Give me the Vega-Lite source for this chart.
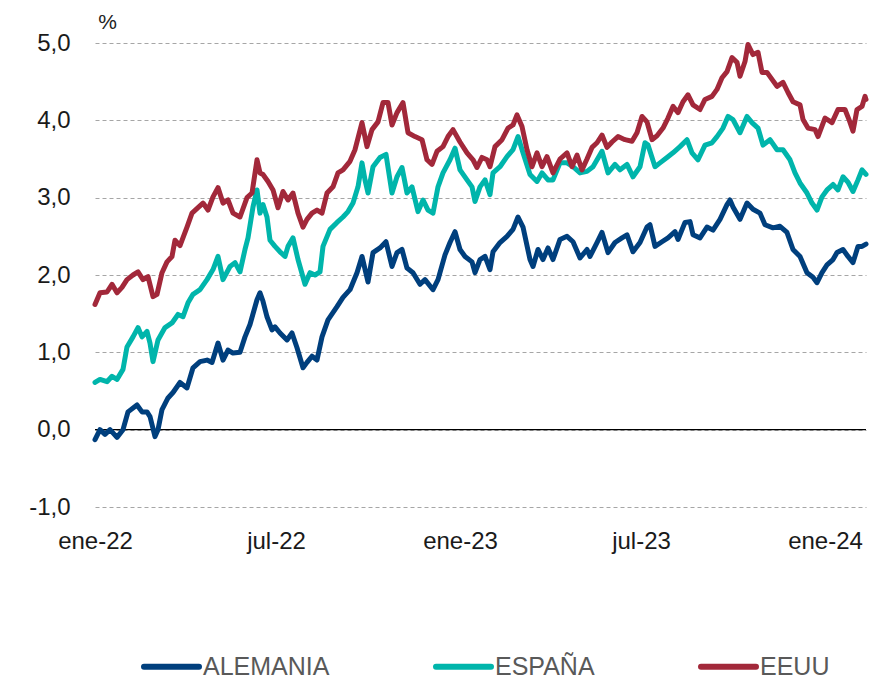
{
"$schema": "https://vega.github.io/schema/vega-lite/v6.json",
"autosize": "none",
"width": 771,
"height": 464,
"padding": {"left": 95, "top": 43, "right": 18, "bottom": 174},
"background": "white",
"datasets": {
"series": [
{"d":"2022-01-01","p":"ALEMANIA","v":-0.13},{"d":"2022-01-06","p":"ALEMANIA","v":0.0},{"d":"2022-01-11","p":"ALEMANIA","v":-0.06},{"d":"2022-01-16","p":"ALEMANIA","v":0.0},{"d":"2022-01-23","p":"ALEMANIA","v":-0.1},{"d":"2022-01-29","p":"ALEMANIA","v":0.0},{"d":"2022-02-03","p":"ALEMANIA","v":0.23},{"d":"2022-02-12","p":"ALEMANIA","v":0.32},{"d":"2022-02-17","p":"ALEMANIA","v":0.23},{"d":"2022-02-22","p":"ALEMANIA","v":0.23},{"d":"2022-02-25","p":"ALEMANIA","v":0.17},{"d":"2022-03-02","p":"ALEMANIA","v":-0.09},{"d":"2022-03-05","p":"ALEMANIA","v":0.0},{"d":"2022-03-09","p":"ALEMANIA","v":0.26},{"d":"2022-03-15","p":"ALEMANIA","v":0.41},{"d":"2022-03-20","p":"ALEMANIA","v":0.48},{"d":"2022-03-27","p":"ALEMANIA","v":0.61},{"d":"2022-04-03","p":"ALEMANIA","v":0.54},{"d":"2022-04-09","p":"ALEMANIA","v":0.8},{"d":"2022-04-16","p":"ALEMANIA","v":0.88},{"d":"2022-04-23","p":"ALEMANIA","v":0.9},{"d":"2022-04-28","p":"ALEMANIA","v":0.87},{"d":"2022-05-04","p":"ALEMANIA","v":1.12},{"d":"2022-05-09","p":"ALEMANIA","v":0.9},{"d":"2022-05-14","p":"ALEMANIA","v":1.03},{"d":"2022-05-19","p":"ALEMANIA","v":0.99},{"d":"2022-05-26","p":"ALEMANIA","v":1.0},{"d":"2022-05-31","p":"ALEMANIA","v":1.2},{"d":"2022-06-05","p":"ALEMANIA","v":1.36},{"d":"2022-06-12","p":"ALEMANIA","v":1.68},{"d":"2022-06-15","p":"ALEMANIA","v":1.77},{"d":"2022-06-18","p":"ALEMANIA","v":1.66},{"d":"2022-06-22","p":"ALEMANIA","v":1.46},{"d":"2022-06-27","p":"ALEMANIA","v":1.29},{"d":"2022-06-30","p":"ALEMANIA","v":1.33},{"d":"2022-07-05","p":"ALEMANIA","v":1.25},{"d":"2022-07-12","p":"ALEMANIA","v":1.16},{"d":"2022-07-17","p":"ALEMANIA","v":1.25},{"d":"2022-07-22","p":"ALEMANIA","v":1.06},{"d":"2022-07-28","p":"ALEMANIA","v":0.8},{"d":"2022-08-01","p":"ALEMANIA","v":0.87},{"d":"2022-08-06","p":"ALEMANIA","v":0.95},{"d":"2022-08-11","p":"ALEMANIA","v":0.9},{"d":"2022-08-16","p":"ALEMANIA","v":1.2},{"d":"2022-08-22","p":"ALEMANIA","v":1.42},{"d":"2022-08-31","p":"ALEMANIA","v":1.59},{"d":"2022-09-06","p":"ALEMANIA","v":1.71},{"d":"2022-09-13","p":"ALEMANIA","v":1.81},{"d":"2022-09-20","p":"ALEMANIA","v":2.03},{"d":"2022-09-25","p":"ALEMANIA","v":2.24},{"d":"2022-10-01","p":"ALEMANIA","v":1.91},{"d":"2022-10-06","p":"ALEMANIA","v":2.29},{"d":"2022-10-13","p":"ALEMANIA","v":2.35},{"d":"2022-10-19","p":"ALEMANIA","v":2.43},{"d":"2022-10-25","p":"ALEMANIA","v":2.11},{"d":"2022-10-30","p":"ALEMANIA","v":2.29},{"d":"2022-11-04","p":"ALEMANIA","v":2.33},{"d":"2022-11-09","p":"ALEMANIA","v":2.09},{"d":"2022-11-15","p":"ALEMANIA","v":2.03},{"d":"2022-11-22","p":"ALEMANIA","v":1.88},{"d":"2022-11-27","p":"ALEMANIA","v":1.94},{"d":"2022-12-05","p":"ALEMANIA","v":1.81},{"d":"2022-12-10","p":"ALEMANIA","v":1.94},{"d":"2022-12-17","p":"ALEMANIA","v":2.26},{"d":"2022-12-22","p":"ALEMANIA","v":2.42},{"d":"2022-12-27","p":"ALEMANIA","v":2.56},{"d":"2023-01-01","p":"ALEMANIA","v":2.33},{"d":"2023-01-06","p":"ALEMANIA","v":2.24},{"d":"2023-01-13","p":"ALEMANIA","v":2.17},{"d":"2023-01-16","p":"ALEMANIA","v":2.03},{"d":"2023-01-21","p":"ALEMANIA","v":2.2},{"d":"2023-01-26","p":"ALEMANIA","v":2.24},{"d":"2023-01-31","p":"ALEMANIA","v":2.07},{"d":"2023-02-03","p":"ALEMANIA","v":2.3},{"d":"2023-02-10","p":"ALEMANIA","v":2.42},{"d":"2023-02-17","p":"ALEMANIA","v":2.5},{"d":"2023-02-23","p":"ALEMANIA","v":2.59},{"d":"2023-02-28","p":"ALEMANIA","v":2.75},{"d":"2023-03-05","p":"ALEMANIA","v":2.62},{"d":"2023-03-12","p":"ALEMANIA","v":2.2},{"d":"2023-03-15","p":"ALEMANIA","v":2.11},{"d":"2023-03-20","p":"ALEMANIA","v":2.33},{"d":"2023-03-25","p":"ALEMANIA","v":2.2},{"d":"2023-03-30","p":"ALEMANIA","v":2.35},{"d":"2023-04-04","p":"ALEMANIA","v":2.2},{"d":"2023-04-11","p":"ALEMANIA","v":2.46},{"d":"2023-04-18","p":"ALEMANIA","v":2.5},{"d":"2023-04-24","p":"ALEMANIA","v":2.43},{"d":"2023-05-01","p":"ALEMANIA","v":2.22},{"d":"2023-05-08","p":"ALEMANIA","v":2.33},{"d":"2023-05-11","p":"ALEMANIA","v":2.24},{"d":"2023-05-18","p":"ALEMANIA","v":2.42},{"d":"2023-05-23","p":"ALEMANIA","v":2.55},{"d":"2023-05-29","p":"ALEMANIA","v":2.29},{"d":"2023-06-05","p":"ALEMANIA","v":2.42},{"d":"2023-06-12","p":"ALEMANIA","v":2.48},{"d":"2023-06-17","p":"ALEMANIA","v":2.52},{"d":"2023-06-23","p":"ALEMANIA","v":2.3},{"d":"2023-06-30","p":"ALEMANIA","v":2.42},{"d":"2023-07-07","p":"ALEMANIA","v":2.62},{"d":"2023-07-10","p":"ALEMANIA","v":2.65},{"d":"2023-07-15","p":"ALEMANIA","v":2.37},{"d":"2023-07-22","p":"ALEMANIA","v":2.43},{"d":"2023-07-28","p":"ALEMANIA","v":2.48},{"d":"2023-08-04","p":"ALEMANIA","v":2.56},{"d":"2023-08-07","p":"ALEMANIA","v":2.46},{"d":"2023-08-14","p":"ALEMANIA","v":2.68},{"d":"2023-08-19","p":"ALEMANIA","v":2.69},{"d":"2023-08-22","p":"ALEMANIA","v":2.52},{"d":"2023-08-29","p":"ALEMANIA","v":2.48},{"d":"2023-09-05","p":"ALEMANIA","v":2.62},{"d":"2023-09-11","p":"ALEMANIA","v":2.58},{"d":"2023-09-18","p":"ALEMANIA","v":2.72},{"d":"2023-09-25","p":"ALEMANIA","v":2.91},{"d":"2023-09-28","p":"ALEMANIA","v":2.97},{"d":"2023-10-01","p":"ALEMANIA","v":2.88},{"d":"2023-10-08","p":"ALEMANIA","v":2.72},{"d":"2023-10-15","p":"ALEMANIA","v":2.93},{"d":"2023-10-21","p":"ALEMANIA","v":2.85},{"d":"2023-10-28","p":"ALEMANIA","v":2.8},{"d":"2023-11-02","p":"ALEMANIA","v":2.65},{"d":"2023-11-10","p":"ALEMANIA","v":2.61},{"d":"2023-11-17","p":"ALEMANIA","v":2.63},{"d":"2023-11-24","p":"ALEMANIA","v":2.55},{"d":"2023-11-30","p":"ALEMANIA","v":2.33},{"d":"2023-12-07","p":"ALEMANIA","v":2.24},{"d":"2023-12-14","p":"ALEMANIA","v":2.03},{"d":"2023-12-20","p":"ALEMANIA","v":1.97},{"d":"2023-12-24","p":"ALEMANIA","v":1.9},{"d":"2023-12-29","p":"ALEMANIA","v":2.03},{"d":"2024-01-03","p":"ALEMANIA","v":2.13},{"d":"2024-01-09","p":"ALEMANIA","v":2.2},{"d":"2024-01-13","p":"ALEMANIA","v":2.29},{"d":"2024-01-19","p":"ALEMANIA","v":2.33},{"d":"2024-01-24","p":"ALEMANIA","v":2.24},{"d":"2024-01-29","p":"ALEMANIA","v":2.16},{"d":"2024-02-03","p":"ALEMANIA","v":2.37},{"d":"2024-02-07","p":"ALEMANIA","v":2.37},{"d":"2024-02-11","p":"ALEMANIA","v":2.4},
{"d":"2022-01-01","p":"ESPAÑA","v":0.61},{"d":"2022-01-06","p":"ESPAÑA","v":0.65},{"d":"2022-01-13","p":"ESPAÑA","v":0.62},{"d":"2022-01-18","p":"ESPAÑA","v":0.69},{"d":"2022-01-23","p":"ESPAÑA","v":0.65},{"d":"2022-01-29","p":"ESPAÑA","v":0.78},{"d":"2022-02-02","p":"ESPAÑA","v":1.07},{"d":"2022-02-08","p":"ESPAÑA","v":1.2},{"d":"2022-02-13","p":"ESPAÑA","v":1.32},{"d":"2022-02-17","p":"ESPAÑA","v":1.2},{"d":"2022-02-22","p":"ESPAÑA","v":1.27},{"d":"2022-02-25","p":"ESPAÑA","v":1.12},{"d":"2022-02-28","p":"ESPAÑA","v":0.88},{"d":"2022-03-05","p":"ESPAÑA","v":1.16},{"d":"2022-03-12","p":"ESPAÑA","v":1.32},{"d":"2022-03-19","p":"ESPAÑA","v":1.38},{"d":"2022-03-25","p":"ESPAÑA","v":1.49},{"d":"2022-03-30","p":"ESPAÑA","v":1.46},{"d":"2022-04-04","p":"ESPAÑA","v":1.64},{"d":"2022-04-09","p":"ESPAÑA","v":1.75},{"d":"2022-04-16","p":"ESPAÑA","v":1.81},{"d":"2022-04-23","p":"ESPAÑA","v":1.94},{"d":"2022-04-29","p":"ESPAÑA","v":2.07},{"d":"2022-05-04","p":"ESPAÑA","v":2.24},{"d":"2022-05-09","p":"ESPAÑA","v":1.94},{"d":"2022-05-16","p":"ESPAÑA","v":2.11},{"d":"2022-05-21","p":"ESPAÑA","v":2.16},{"d":"2022-05-26","p":"ESPAÑA","v":2.04},{"d":"2022-05-31","p":"ESPAÑA","v":2.33},{"d":"2022-06-03","p":"ESPAÑA","v":2.48},{"d":"2022-06-08","p":"ESPAÑA","v":2.88},{"d":"2022-06-12","p":"ESPAÑA","v":3.1},{"d":"2022-06-15","p":"ESPAÑA","v":2.8},{"d":"2022-06-18","p":"ESPAÑA","v":2.91},{"d":"2022-06-22","p":"ESPAÑA","v":2.75},{"d":"2022-06-25","p":"ESPAÑA","v":2.45},{"d":"2022-06-30","p":"ESPAÑA","v":2.37},{"d":"2022-07-05","p":"ESPAÑA","v":2.3},{"d":"2022-07-10","p":"ESPAÑA","v":2.24},{"d":"2022-07-13","p":"ESPAÑA","v":2.37},{"d":"2022-07-18","p":"ESPAÑA","v":2.48},{"d":"2022-07-23","p":"ESPAÑA","v":2.2},{"d":"2022-07-30","p":"ESPAÑA","v":1.88},{"d":"2022-08-04","p":"ESPAÑA","v":2.03},{"d":"2022-08-09","p":"ESPAÑA","v":2.0},{"d":"2022-08-14","p":"ESPAÑA","v":2.04},{"d":"2022-08-17","p":"ESPAÑA","v":2.37},{"d":"2022-08-24","p":"ESPAÑA","v":2.59},{"d":"2022-08-31","p":"ESPAÑA","v":2.68},{"d":"2022-09-06","p":"ESPAÑA","v":2.75},{"d":"2022-09-11","p":"ESPAÑA","v":2.82},{"d":"2022-09-16","p":"ESPAÑA","v":2.93},{"d":"2022-09-21","p":"ESPAÑA","v":3.14},{"d":"2022-09-25","p":"ESPAÑA","v":3.45},{"d":"2022-09-28","p":"ESPAÑA","v":3.23},{"d":"2022-10-01","p":"ESPAÑA","v":3.06},{"d":"2022-10-06","p":"ESPAÑA","v":3.4},{"d":"2022-10-13","p":"ESPAÑA","v":3.52},{"d":"2022-10-19","p":"ESPAÑA","v":3.56},{"d":"2022-10-25","p":"ESPAÑA","v":3.06},{"d":"2022-10-30","p":"ESPAÑA","v":3.27},{"d":"2022-11-04","p":"ESPAÑA","v":3.39},{"d":"2022-11-09","p":"ESPAÑA","v":3.06},{"d":"2022-11-14","p":"ESPAÑA","v":3.14},{"d":"2022-11-20","p":"ESPAÑA","v":2.82},{"d":"2022-11-25","p":"ESPAÑA","v":2.97},{"d":"2022-11-30","p":"ESPAÑA","v":2.84},{"d":"2022-12-05","p":"ESPAÑA","v":2.8},{"d":"2022-12-10","p":"ESPAÑA","v":3.14},{"d":"2022-12-15","p":"ESPAÑA","v":3.32},{"d":"2022-12-22","p":"ESPAÑA","v":3.49},{"d":"2022-12-27","p":"ESPAÑA","v":3.64},{"d":"2023-01-01","p":"ESPAÑA","v":3.36},{"d":"2023-01-08","p":"ESPAÑA","v":3.23},{"d":"2023-01-13","p":"ESPAÑA","v":3.14},{"d":"2023-01-16","p":"ESPAÑA","v":2.95},{"d":"2023-01-21","p":"ESPAÑA","v":3.14},{"d":"2023-01-26","p":"ESPAÑA","v":3.23},{"d":"2023-01-31","p":"ESPAÑA","v":3.04},{"d":"2023-02-03","p":"ESPAÑA","v":3.32},{"d":"2023-02-10","p":"ESPAÑA","v":3.4},{"d":"2023-02-17","p":"ESPAÑA","v":3.53},{"d":"2023-02-23","p":"ESPAÑA","v":3.62},{"d":"2023-02-28","p":"ESPAÑA","v":3.79},{"d":"2023-03-05","p":"ESPAÑA","v":3.58},{"d":"2023-03-12","p":"ESPAÑA","v":3.3},{"d":"2023-03-19","p":"ESPAÑA","v":3.21},{"d":"2023-03-24","p":"ESPAÑA","v":3.32},{"d":"2023-03-30","p":"ESPAÑA","v":3.23},{"d":"2023-04-04","p":"ESPAÑA","v":3.23},{"d":"2023-04-11","p":"ESPAÑA","v":3.45},{"d":"2023-04-18","p":"ESPAÑA","v":3.45},{"d":"2023-04-24","p":"ESPAÑA","v":3.4},{"d":"2023-05-01","p":"ESPAÑA","v":3.32},{"d":"2023-05-08","p":"ESPAÑA","v":3.34},{"d":"2023-05-14","p":"ESPAÑA","v":3.4},{"d":"2023-05-23","p":"ESPAÑA","v":3.6},{"d":"2023-05-29","p":"ESPAÑA","v":3.32},{"d":"2023-06-05","p":"ESPAÑA","v":3.43},{"d":"2023-06-10","p":"ESPAÑA","v":3.36},{"d":"2023-06-17","p":"ESPAÑA","v":3.43},{"d":"2023-06-23","p":"ESPAÑA","v":3.27},{"d":"2023-06-30","p":"ESPAÑA","v":3.4},{"d":"2023-07-05","p":"ESPAÑA","v":3.71},{"d":"2023-07-08","p":"ESPAÑA","v":3.68},{"d":"2023-07-15","p":"ESPAÑA","v":3.4},{"d":"2023-07-20","p":"ESPAÑA","v":3.45},{"d":"2023-07-27","p":"ESPAÑA","v":3.52},{"d":"2023-08-02","p":"ESPAÑA","v":3.58},{"d":"2023-08-09","p":"ESPAÑA","v":3.66},{"d":"2023-08-16","p":"ESPAÑA","v":3.75},{"d":"2023-08-21","p":"ESPAÑA","v":3.58},{"d":"2023-08-27","p":"ESPAÑA","v":3.49},{"d":"2023-09-03","p":"ESPAÑA","v":3.68},{"d":"2023-09-10","p":"ESPAÑA","v":3.71},{"d":"2023-09-15","p":"ESPAÑA","v":3.79},{"d":"2023-09-21","p":"ESPAÑA","v":3.9},{"d":"2023-09-26","p":"ESPAÑA","v":4.05},{"d":"2023-10-01","p":"ESPAÑA","v":4.01},{"d":"2023-10-08","p":"ESPAÑA","v":3.84},{"d":"2023-10-15","p":"ESPAÑA","v":4.05},{"d":"2023-10-20","p":"ESPAÑA","v":3.97},{"d":"2023-10-26","p":"ESPAÑA","v":3.9},{"d":"2023-10-31","p":"ESPAÑA","v":3.68},{"d":"2023-11-07","p":"ESPAÑA","v":3.75},{"d":"2023-11-14","p":"ESPAÑA","v":3.62},{"d":"2023-11-20","p":"ESPAÑA","v":3.62},{"d":"2023-11-27","p":"ESPAÑA","v":3.49},{"d":"2023-12-02","p":"ESPAÑA","v":3.32},{"d":"2023-12-07","p":"ESPAÑA","v":3.19},{"d":"2023-12-14","p":"ESPAÑA","v":3.06},{"d":"2023-12-19","p":"ESPAÑA","v":2.93},{"d":"2023-12-24","p":"ESPAÑA","v":2.84},{"d":"2023-12-29","p":"ESPAÑA","v":3.01},{"d":"2024-01-03","p":"ESPAÑA","v":3.1},{"d":"2024-01-09","p":"ESPAÑA","v":3.17},{"d":"2024-01-14","p":"ESPAÑA","v":3.1},{"d":"2024-01-19","p":"ESPAÑA","v":3.27},{"d":"2024-01-24","p":"ESPAÑA","v":3.2},{"d":"2024-01-29","p":"ESPAÑA","v":3.08},{"d":"2024-02-03","p":"ESPAÑA","v":3.23},{"d":"2024-02-07","p":"ESPAÑA","v":3.36},{"d":"2024-02-09","p":"ESPAÑA","v":3.33},{"d":"2024-02-11","p":"ESPAÑA","v":3.3},
{"d":"2022-01-01","p":"EEUU","v":1.62},{"d":"2022-01-06","p":"EEUU","v":1.77},{"d":"2022-01-13","p":"EEUU","v":1.78},{"d":"2022-01-18","p":"EEUU","v":1.88},{"d":"2022-01-23","p":"EEUU","v":1.77},{"d":"2022-01-28","p":"EEUU","v":1.84},{"d":"2022-02-02","p":"EEUU","v":1.94},{"d":"2022-02-08","p":"EEUU","v":2.0},{"d":"2022-02-13","p":"EEUU","v":2.04},{"d":"2022-02-18","p":"EEUU","v":1.94},{"d":"2022-02-23","p":"EEUU","v":1.98},{"d":"2022-02-28","p":"EEUU","v":1.72},{"d":"2022-03-04","p":"EEUU","v":1.75},{"d":"2022-03-09","p":"EEUU","v":2.03},{"d":"2022-03-14","p":"EEUU","v":2.17},{"d":"2022-03-19","p":"EEUU","v":2.24},{"d":"2022-03-22","p":"EEUU","v":2.45},{"d":"2022-03-27","p":"EEUU","v":2.38},{"d":"2022-04-03","p":"EEUU","v":2.62},{"d":"2022-04-08","p":"EEUU","v":2.8},{"d":"2022-04-14","p":"EEUU","v":2.87},{"d":"2022-04-19","p":"EEUU","v":2.93},{"d":"2022-04-24","p":"EEUU","v":2.84},{"d":"2022-04-29","p":"EEUU","v":3.01},{"d":"2022-05-04","p":"EEUU","v":3.13},{"d":"2022-05-09","p":"EEUU","v":2.93},{"d":"2022-05-14","p":"EEUU","v":2.97},{"d":"2022-05-19","p":"EEUU","v":2.8},{"d":"2022-05-26","p":"EEUU","v":2.75},{"d":"2022-06-02","p":"EEUU","v":3.0},{"d":"2022-06-07","p":"EEUU","v":3.06},{"d":"2022-06-12","p":"EEUU","v":3.49},{"d":"2022-06-15","p":"EEUU","v":3.32},{"d":"2022-06-18","p":"EEUU","v":3.3},{"d":"2022-06-23","p":"EEUU","v":3.21},{"d":"2022-06-28","p":"EEUU","v":3.1},{"d":"2022-07-03","p":"EEUU","v":2.87},{"d":"2022-07-08","p":"EEUU","v":3.08},{"d":"2022-07-13","p":"EEUU","v":2.97},{"d":"2022-07-18","p":"EEUU","v":3.06},{"d":"2022-07-23","p":"EEUU","v":2.8},{"d":"2022-07-28","p":"EEUU","v":2.62},{"d":"2022-08-01","p":"EEUU","v":2.72},{"d":"2022-08-06","p":"EEUU","v":2.8},{"d":"2022-08-11","p":"EEUU","v":2.84},{"d":"2022-08-16","p":"EEUU","v":2.8},{"d":"2022-08-21","p":"EEUU","v":3.06},{"d":"2022-08-27","p":"EEUU","v":3.14},{"d":"2022-09-01","p":"EEUU","v":3.32},{"d":"2022-09-06","p":"EEUU","v":3.36},{"d":"2022-09-13","p":"EEUU","v":3.47},{"d":"2022-09-18","p":"EEUU","v":3.62},{"d":"2022-09-25","p":"EEUU","v":3.97},{"d":"2022-09-30","p":"EEUU","v":3.66},{"d":"2022-10-05","p":"EEUU","v":3.88},{"d":"2022-10-11","p":"EEUU","v":3.98},{"d":"2022-10-16","p":"EEUU","v":4.23},{"d":"2022-10-21","p":"EEUU","v":4.23},{"d":"2022-10-25","p":"EEUU","v":3.94},{"d":"2022-10-30","p":"EEUU","v":4.1},{"d":"2022-11-05","p":"EEUU","v":4.23},{"d":"2022-11-10","p":"EEUU","v":3.84},{"d":"2022-11-17","p":"EEUU","v":3.79},{"d":"2022-11-24","p":"EEUU","v":3.75},{"d":"2022-11-29","p":"EEUU","v":3.49},{"d":"2022-12-04","p":"EEUU","v":3.43},{"d":"2022-12-09","p":"EEUU","v":3.6},{"d":"2022-12-15","p":"EEUU","v":3.66},{"d":"2022-12-20","p":"EEUU","v":3.79},{"d":"2022-12-25","p":"EEUU","v":3.88},{"d":"2023-01-01","p":"EEUU","v":3.72},{"d":"2023-01-08","p":"EEUU","v":3.58},{"d":"2023-01-14","p":"EEUU","v":3.49},{"d":"2023-01-18","p":"EEUU","v":3.39},{"d":"2023-01-23","p":"EEUU","v":3.52},{"d":"2023-01-28","p":"EEUU","v":3.49},{"d":"2023-01-31","p":"EEUU","v":3.4},{"d":"2023-02-05","p":"EEUU","v":3.66},{"d":"2023-02-12","p":"EEUU","v":3.75},{"d":"2023-02-18","p":"EEUU","v":3.9},{"d":"2023-02-23","p":"EEUU","v":3.94},{"d":"2023-02-27","p":"EEUU","v":4.07},{"d":"2023-03-04","p":"EEUU","v":3.92},{"d":"2023-03-09","p":"EEUU","v":3.62},{"d":"2023-03-14","p":"EEUU","v":3.4},{"d":"2023-03-19","p":"EEUU","v":3.58},{"d":"2023-03-24","p":"EEUU","v":3.4},{"d":"2023-03-29","p":"EEUU","v":3.53},{"d":"2023-04-04","p":"EEUU","v":3.32},{"d":"2023-04-11","p":"EEUU","v":3.5},{"d":"2023-04-18","p":"EEUU","v":3.58},{"d":"2023-04-23","p":"EEUU","v":3.4},{"d":"2023-04-28","p":"EEUU","v":3.55},{"d":"2023-05-03","p":"EEUU","v":3.36},{"d":"2023-05-08","p":"EEUU","v":3.5},{"d":"2023-05-13","p":"EEUU","v":3.65},{"d":"2023-05-18","p":"EEUU","v":3.71},{"d":"2023-05-23","p":"EEUU","v":3.81},{"d":"2023-05-28","p":"EEUU","v":3.65},{"d":"2023-06-02","p":"EEUU","v":3.72},{"d":"2023-06-08","p":"EEUU","v":3.79},{"d":"2023-06-15","p":"EEUU","v":3.75},{"d":"2023-06-22","p":"EEUU","v":3.73},{"d":"2023-06-27","p":"EEUU","v":3.84},{"d":"2023-07-02","p":"EEUU","v":4.05},{"d":"2023-07-07","p":"EEUU","v":3.98},{"d":"2023-07-12","p":"EEUU","v":3.75},{"d":"2023-07-17","p":"EEUU","v":3.8},{"d":"2023-07-23","p":"EEUU","v":3.9},{"d":"2023-07-28","p":"EEUU","v":4.03},{"d":"2023-08-02","p":"EEUU","v":4.18},{"d":"2023-08-07","p":"EEUU","v":4.1},{"d":"2023-08-12","p":"EEUU","v":4.24},{"d":"2023-08-17","p":"EEUU","v":4.33},{"d":"2023-08-22","p":"EEUU","v":4.2},{"d":"2023-08-29","p":"EEUU","v":4.14},{"d":"2023-09-03","p":"EEUU","v":4.27},{"d":"2023-09-10","p":"EEUU","v":4.31},{"d":"2023-09-15","p":"EEUU","v":4.4},{"d":"2023-09-20","p":"EEUU","v":4.55},{"d":"2023-09-25","p":"EEUU","v":4.63},{"d":"2023-09-30","p":"EEUU","v":4.81},{"d":"2023-10-05","p":"EEUU","v":4.75},{"d":"2023-10-08","p":"EEUU","v":4.57},{"d":"2023-10-13","p":"EEUU","v":4.76},{"d":"2023-10-16","p":"EEUU","v":4.98},{"d":"2023-10-21","p":"EEUU","v":4.85},{"d":"2023-10-26","p":"EEUU","v":4.88},{"d":"2023-10-30","p":"EEUU","v":4.62},{"d":"2023-11-04","p":"EEUU","v":4.62},{"d":"2023-11-09","p":"EEUU","v":4.53},{"d":"2023-11-14","p":"EEUU","v":4.44},{"d":"2023-11-20","p":"EEUU","v":4.49},{"d":"2023-11-25","p":"EEUU","v":4.36},{"d":"2023-11-30","p":"EEUU","v":4.24},{"d":"2023-12-07","p":"EEUU","v":4.2},{"d":"2023-12-10","p":"EEUU","v":4.01},{"d":"2023-12-15","p":"EEUU","v":3.9},{"d":"2023-12-22","p":"EEUU","v":3.88},{"d":"2023-12-25","p":"EEUU","v":3.79},{"d":"2024-01-01","p":"EEUU","v":4.03},{"d":"2024-01-08","p":"EEUU","v":3.97},{"d":"2024-01-14","p":"EEUU","v":4.14},{"d":"2024-01-21","p":"EEUU","v":4.14},{"d":"2024-01-25","p":"EEUU","v":4.01},{"d":"2024-01-29","p":"EEUU","v":3.86},{"d":"2024-02-02","p":"EEUU","v":4.14},{"d":"2024-02-07","p":"EEUU","v":4.18},{"d":"2024-02-10","p":"EEUU","v":4.31},{"d":"2024-02-11","p":"EEUU","v":4.27}
],
"zero": [{"z": 0}]
},
"config": {
  "view": {"stroke": null},
  "font": "Liberation Sans",
  "axisY": {
    "grid": true, "gridDash": [4, 3], "gridColor": "#a6a6a6", "gridWidth": 1,
    "domain": false, "ticks": false,
    "labelFont": "Liberation Sans", "labelFontSize": 24, "labelColor": "#1a1a1a", "labelPadding": 25,
    "titleAngle": 0, "titleX": 12, "titleY": -21, "titleAlign": "center", "titleBaseline": "middle",
    "titleFont": "Liberation Sans", "titleFontSize": 21, "titleFontWeight": "normal", "titleColor": "#222222"
  }
},
"layer": [
  {
    "data": {"name": "zero"},
    "mark": {"type": "rule", "color": "#000000", "strokeWidth": 1.2},
    "encoding": {
      "y": {"field": "z", "type": "quantitative", "scale": {"domain": [-1, 5], "nice": false},
            "axis": {"title": "%", "values": [-1, 0, 1, 2, 3, 4, 5], "labelExpr": "replace(replace(format(datum.value, '.1f'), '.', ','), '\u2212', '-')"}}
    }
  },
  {
    "data": {"name": "series"},
    "mark": {"type": "line", "strokeWidth": 5, "strokeJoin": "round", "strokeCap": "round"},
    "encoding": {
      "x": {"field": "d", "type": "temporal",
            "scale": {"type": "utc", "domain": [1640995200000, 1707609600000]},
            "axis": {"title": null, "values": [1640995200000, 1656633600000, 1672531200000, 1688169600000, 1704067200000],
                     "labelExpr": "(utcFormat(datum.value, '%m') == '01' ? 'ene-' : 'jul-') + utcFormat(datum.value, '%y')",
                     "grid": false, "domain": false, "ticks": false, "labelFlush": false, "labelOverlap": false,
                     "labelPadding": 22, "labelFont": "Liberation Sans", "labelFontSize": 24, "labelColor": "#1a1a1a"}},
      "y": {"field": "v", "type": "quantitative", "scale": {"domain": [-1, 5], "nice": false},
            "axis": {"title": "%", "values": [-1, 0, 1, 2, 3, 4, 5], "labelExpr": "replace(replace(format(datum.value, '.1f'), '.', ','), '\u2212', '-')"}},
      "color": {"field": "p", "type": "nominal",
                "scale": {"domain": ["ALEMANIA", "ESPAÑA", "EEUU"], "range": ["#003f7d", "#00b5ab", "#a2283a"]},
                "legend": {"title": null, "orient": "none", "legendX": 46, "legendY": 593, "direction": "horizontal",
                           "symbolType": "stroke", "symbolSize": 3025, "symbolStrokeWidth": 6,
                           "labelFont": "Liberation Sans", "labelFontSize": 25, "labelColor": "#595959",
                           "labelOffset": 1, "columnPadding": 94, "labelLimit": 300,
                           "encode": {"symbols": {"update": {"strokeCap": {"value": "round"}, "strokeWidth": {"value": 6}}}}}}
    }
  }
]
}
